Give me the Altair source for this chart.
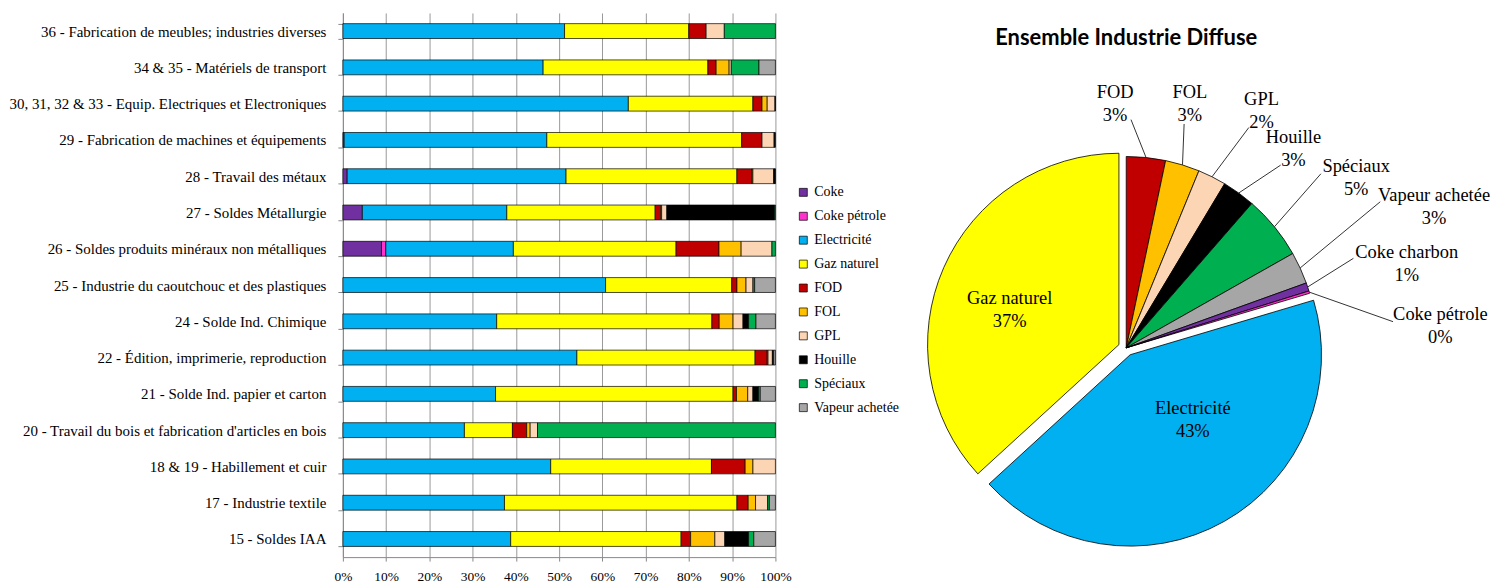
import json
import altair as alt
import pandas as pd

# ---------------- data ----------------
categories = [
    "36 - Fabrication de meubles; industries diverses",
    "34 & 35 - Matériels de transport",
    "30, 31, 32 & 33 - Equip. Electriques et Electroniques",
    "29 - Fabrication de machines et équipements",
    "28 - Travail des métaux",
    "27 - Soldes Métallurgie",
    "26 - Soldes produits minéraux non métalliques",
    "25 - Industrie du caoutchouc et des plastiques",
    "24 - Solde Ind. Chimique",
    "22 - Édition, imprimerie, reproduction",
    "21  - Solde Ind. papier et carton",
    "20 - Travail du bois et fabrication d'articles en bois",
    "18 & 19 - Habillement et cuir",
    "17 - Industrie textile",
    "15 - Soldes IAA",
]

fuels = ["Coke", "Coke pétrole", "Electricité", "Gaz naturel", "FOD", "FOL",
         "GPL", "Houille", "Spéciaux", "Vapeur achetée"]
fuel_colors = ["#7030A0", "#FF33CC", "#00B0F0", "#FFFF00", "#C00000", "#FFC000",
               "#FCD5B4", "#000000", "#00B050", "#A6A6A6"]

coke =           [0, 0, 0, 0.3, 1.0, 4.5, 8.9, 0, 0, 0, 0, 0, 0, 0, 0]
coke_petrole =   [0, 0, 0, 0, 0, 0, 1.0, 0, 0, 0, 0, 0, 0, 0, 0]
electricite =    [51.2, 46.3, 66.0, 46.9, 50.6, 33.4, 29.4, 60.8, 35.6, 54.1, 35.3, 28.1, 48.1, 37.4, 38.8]
gaz_naturel =    [28.7, 38.1, 28.8, 45.1, 39.5, 34.3, 37.5, 29.2, 49.8, 41.2, 54.9, 11.1, 37.2, 53.8, 39.4]
fod =            [4.0, 1.9, 2.1, 4.7, 3.5, 1.3, 9.9, 1.2, 1.7, 2.8, 0.8, 3.3, 7.8, 2.6, 2.2]
fol =            [0, 3.0, 1.2, 0, 0.2, 0.2, 5.1, 2.1, 3.2, 0.2, 2.6, 0.8, 1.8, 1.7, 5.6]
gpl =            [4.2, 0.5, 1.8, 2.8, 4.8, 1.2, 7.1, 1.6, 2.3, 1.0, 1.2, 1.7, 5.2, 2.8, 2.3]
houille =        [0, 0, 0.1, 0.3, 0.3, 24.9, 0, 0, 1.3, 0.3, 1.3, 0, 0, 0, 5.5]
speciaux =       [11.8, 6.4, 0, 0, 0.1, 0.2, 0.8, 0.4, 1.7, 0, 0.4, 55.0, 0, 0.4, 1.2]
vapeur_achetee = [0, 3.8, 0, 0, 0, 0, 0, 4.8, 4.5, 0.4, 3.5, 0, 0, 1.4, 5.0]

series = [coke, coke_petrole, electricite, gaz_naturel, fod, fol, gpl,
          houille, speciaux, vapeur_achetee]

pie_title = "Ensemble Industrie Diffuse"
pie_names = ["FOD", "FOL", "GPL", "Houille", "Spéciaux", "Vapeur achetée",
             "Coke charbon", "Coke pétrole", "Electricité", "Gaz naturel"]
pie_values = [3.3, 2.9, 2.4, 2.8, 5.4, 2.7, 0.7, 0.2, 42.8, 36.8]
pie_colors = ["#C00000", "#FFC000", "#FCD5B4", "#000000", "#00B050", "#A6A6A6",
              "#7030A0", "#FF33CC", "#00B0F0", "#FFFF00"]

# ---------------- layout (pixels / degrees) ----------------
SERIF = "Liberation Serif"
BAR_W, BAR_H = 434, 546
PIE_W = 575
SPACING = 10
CX, CY = 217, 336          # pie centre inside the pie panel
R = 192
EXPLODE = 8
exploded = ["Electricité", "Gaz naturel"]
TITLE_Y = 25
LINE_H = 23
label_angle = {"FOD": -2.6, "FOL": 14.6, "GPL": 29.7, "Houille": 40, "Spéciaux": 53.5,
               "Vapeur achetée": 65.3, "Coke charbon": 73.2, "Coke pétrole": 86,
               "Electricité": 137, "Gaz naturel": 288}
label_radius = {"FOD": 245, "FOL": 253, "GPL": 274, "Houille": 261, "Spéciaux": 287,
                "Vapeur achetée": 340, "Coke charbon": 294, "Coke pétrole": 316,
                "Electricité": 98, "Gaz naturel": 123}
leader_angle = {"FOD": 1.2, "FOL": 14.5, "GPL": 29.1, "Houille": 40.2, "Spéciaux": 48.2,
                "Vapeur achetée": 60.1, "Coke charbon": 68.5, "Coke pétrole": 84.4}
leader_radius = {"FOD": 229, "FOL": 232, "GPL": 253, "Houille": 240, "Spéciaux": 262,
                 "Vapeur achetée": 294, "Coke charbon": 245, "Coke pétrole": 269}

# ---------------- bar chart ----------------
rows = []
for j, (fuel, vals) in enumerate(zip(fuels, series)):
    for cat, v in zip(categories, vals):
        if v > 0:
            rows.append({"secteur": cat, "energie": fuel, "part": v, "ordre": j})
bar_df = pd.DataFrame(rows)

bars = alt.Chart(bar_df).mark_bar(stroke="#000000", strokeWidth=0.7).encode(
    y=alt.Y("secteur:N", sort=categories,
            scale=alt.Scale(paddingInner=0.59, paddingOuter=0.295),
            axis=alt.Axis(title=None, labelFont=SERIF, labelFontSize=15, labelColor="#000",
                          labelLimit=500, tickBand="extent", tickSize=5, labelPadding=12,
                          domainColor="#888888", tickColor="#888888", grid=False)),
    x=alt.X("part:Q", stack="normalize",
            scale=alt.Scale(domain=[0, 1], nice=False),
            axis=alt.Axis(title=None, format=".0%", values=[i / 10 for i in range(11)],
                          labelFont=SERIF, labelFontSize=13.5, labelColor="#000",
                          labelFlush=False, labelOverlap=False, tickSize=4, labelPadding=8,
                          grid=True, gridColor="#999999", gridWidth=1,
                          domainColor="#888888", tickColor="#888888")),
    color=alt.Color("energie:N", scale=alt.Scale(domain=fuels, range=fuel_colors),
                    legend=alt.Legend(title=None, orient="none", legendX=455, legendY=173,
                                      symbolType="square", symbolSize=64,
                                      symbolStrokeColor="#000", symbolStrokeWidth=0.7,
                                      labelFont=SERIF, labelFontSize=14, labelColor="#000",
                                      labelOffset=4, rowPadding=10, labelLimit=300)),
    order=alt.Order("ordre:Q"),
).properties(width=BAR_W, height=BAR_H)

# ---------------- pie chart ----------------
pie_df = pd.DataFrame({
    "nom": pie_names,
    "part": pie_values,
    "ordre": list(range(len(pie_names))),
    "lab_ang": [label_angle[n] for n in pie_names],
    "lab_r": [label_radius[n] for n in pie_names],
    "lead_ang": [leader_angle.get(n, 0) for n in pie_names],
    "lead_r": [leader_radius.get(n, 0) for n in pie_names],
})

base = (
    alt.Chart(pie_df)
    .transform_joinaggregate(total="sum(part)")
    .transform_window(cum="sum(part)", sort=[alt.SortField("ordre")], frame=[None, 0])
    .transform_calculate(t1="datum.cum / datum.total * 2 * PI")
    .transform_calculate(t0="(datum.cum - datum.part) / datum.total * 2 * PI")
    .transform_calculate(mid="(datum.t0 + datum.t1) / 2")
    .transform_calculate(off=f"indexof({json.dumps(exploded)}, datum.nom) >= 0 ? {EXPLODE} : 0")
    .transform_calculate(px=f"{CX} + datum.off * sin(datum.mid)")
    .transform_calculate(py=f"{CY} - datum.off * cos(datum.mid)")
)

arcs = base.mark_arc(radius=R, stroke="#000000", strokeWidth=0.8).encode(
    x=alt.X("px:Q", scale=None),
    y=alt.Y("py:Q", scale=None),
    theta=alt.Theta("t0:Q", scale=None),
    theta2=alt.Theta2("t1:Q"),
    color=alt.Color("nom:N", scale=alt.Scale(domain=pie_names, range=pie_colors), legend=None),
)

leaders = (
    base.transform_filter("datum.lead_r > 0")
    .transform_calculate(sx=f"{CX} + {R} * sin(datum.mid)")
    .transform_calculate(sy=f"{CY} - {R} * cos(datum.mid)")
    .transform_calculate(ex=f"{CX} + datum.lead_r * sin(datum.lead_ang * PI / 180)")
    .transform_calculate(ey=f"{CY} - datum.lead_r * cos(datum.lead_ang * PI / 180)")
    .mark_rule(color="#333333", strokeWidth=1)
    .encode(x=alt.X("sx:Q", scale=None), y=alt.Y("sy:Q", scale=None),
            x2="ex:Q", y2="ey:Q")
)

labels = (
    base.transform_calculate(lx=f"{CX} + datum.lab_r * sin(datum.lab_ang * PI / 180)")
    .transform_calculate(ly=f"{CY} - datum.lab_r * cos(datum.lab_ang * PI / 180) - {LINE_H / 2}")
    .transform_calculate(txt="datum.nom + '\\n' + format(datum.part / datum.total, '.0%')")
    .mark_text(font=SERIF, fontSize=18.5, color="#000", lineBreak="\n", lineHeight=LINE_H,
               align="center", baseline="middle")
    .encode(x=alt.X("lx:Q", scale=None), y=alt.Y("ly:Q", scale=None), text="txt:N")
)

title = alt.Chart(pd.DataFrame({"titre": [pie_title]})).mark_text(
    font="Lato", fontWeight="bold", fontSize=22, color="#000", align="center", baseline="middle"
).encode(text="titre:N", x=alt.value(CX), y=alt.value(TITLE_Y))

pie = alt.layer(arcs, leaders, labels, title).properties(width=PIE_W, height=BAR_H)

chart = (
    alt.hconcat(bars, pie, spacing=SPACING)
    .resolve_scale(color="independent")
    .resolve_legend(color="independent")
    .properties(padding={"left": 0, "top": -3, "right": 0, "bottom": 0})
    .configure_view(stroke=None)
    .configure_legend(labelFont=SERIF)
)

chart.save("out.html", embed_options={"renderer": "svg", "actions": False})
